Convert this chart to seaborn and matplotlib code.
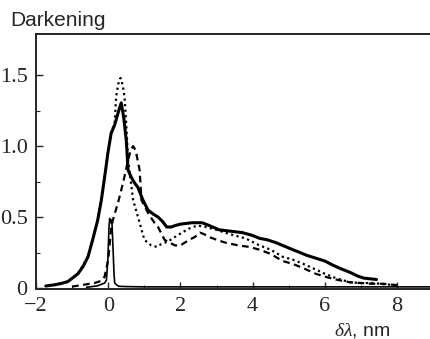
import numpy as np
import pandas as pd
import matplotlib
matplotlib.use("Agg")
import matplotlib.pyplot as plt
import seaborn as sns
from matplotlib.ticker import FixedLocator

# ---- data ----
solid_x = [-1.73, -1.5, -1.3, -1.12, -0.84, -0.7, -0.56, -0.43, -0.29, -0.19, -0.1, -0.01, 0.08, 0.18,
           0.28, 0.36, 0.43, 0.50, 0.55, 0.64, 0.73, 0.82, 0.96, 1.1, 1.25, 1.38, 1.50, 1.62, 1.75,
           1.85, 2.0, 2.32, 2.6, 2.8, 3.07, 3.4, 3.72, 4.0, 4.19, 4.4, 4.64, 4.83, 5.11, 5.31, 5.5, 5.75,
           6.0, 6.23, 6.45, 6.70, 6.9, 7.07, 7.25, 7.43]
solid_y = [0.014, 0.022, 0.032, 0.045, 0.10, 0.15, 0.22, 0.34, 0.48, 0.62, 0.78, 0.95, 1.09, 1.15,
           1.24, 1.305, 1.2, 1.04, 0.83, 0.78, 0.74, 0.71, 0.62, 0.55, 0.52, 0.50, 0.47, 0.43, 0.43,
           0.44, 0.45, 0.46, 0.46, 0.44, 0.41, 0.40, 0.39, 0.37, 0.35, 0.34, 0.32, 0.30, 0.27, 0.25, 0.23, 0.21,
           0.19, 0.16, 0.135, 0.11, 0.085, 0.07, 0.065, 0.06]

dotted_x = [-1.5, -1.12, -0.84, -0.56, -0.29, -0.1, -0.01, 0.08, 0.18, 0.22, 0.28, 0.34, 0.40, 0.45, 0.5,
            0.55, 0.69, 0.87, 1.0, 1.19, 1.35, 1.47, 1.67, 1.85, 2.04, 2.25, 2.46, 2.7, 3.0, 3.24,
            3.5, 3.8, 4.19, 4.5, 4.83, 5.11, 5.4, 5.75, 6.0, 6.3, 6.7, 7.0, 7.35, 7.7, 8.0]
dotted_y = [0.02, 0.045, 0.10, 0.22, 0.48, 0.78, 0.95, 1.09, 1.17, 1.35, 1.44, 1.48, 1.43, 1.35, 1.15,
            0.9, 0.62, 0.46, 0.34, 0.30, 0.29, 0.31, 0.33, 0.36, 0.39, 0.42, 0.44, 0.43, 0.41, 0.39,
            0.37, 0.35, 0.30, 0.27, 0.22, 0.20, 0.17, 0.13, 0.10, 0.07, 0.04, 0.035, 0.035, 0.025, 0.02]

dashed_x = [-1.0, -0.75, -0.38, -0.2, -0.1, 0.0, 0.08, 0.13, 0.27, 0.41, 0.55, 0.62, 0.69, 0.76,
            0.87, 0.92, 1.0, 1.1, 1.2, 1.28, 1.38, 1.56, 1.7, 1.85, 2.0, 2.12, 2.25, 2.4, 2.54, 2.65,
            2.79, 3.0, 3.24, 3.6, 3.9, 4.19, 4.5, 4.83, 5.11, 5.4, 5.75, 6.0, 6.3, 6.7, 7.0, 7.3, 7.6, 8.0]
dashed_y = [0.01, 0.02, 0.035, 0.05, 0.08, 0.2, 0.42, 0.48, 0.60, 0.74, 0.9, 0.97, 1.0, 0.97,
            0.83, 0.62, 0.58, 0.53, 0.49, 0.46, 0.43, 0.34, 0.32, 0.30, 0.30, 0.32, 0.34, 0.36, 0.39, 0.38,
            0.36, 0.34, 0.32, 0.30, 0.29, 0.27, 0.24, 0.19, 0.17, 0.14, 0.10, 0.08, 0.06, 0.04, 0.035, 0.03, 0.03, 0.02]

thin_x = [-0.6, -0.3, -0.1, -0.05, -0.01, 0.02, 0.04, 0.07, 0.10, 0.13, 0.16, 0.18, 0.24, 0.3, 0.5, 1.0,
          2.0, 3.0, 4.0, 5.0, 6.0, 7.0, 8.0, 9.0]
thin_y = [0.005, 0.015, 0.035, 0.056, 0.2, 0.42, 0.49, 0.46, 0.48, 0.30, 0.10, 0.035, 0.02, 0.012, 0.01,
          0.008, 0.008, 0.008, 0.008, 0.008, 0.008, 0.008, 0.008, 0.008]

x_ticks = [-2, 0, 2, 4, 6, 8]
x_tick_labels = ["\u22122", "0", "2", "4", "6", "8"]
y_ticks = [0, 0.5, 1.0, 1.5]
y_tick_labels = ["0", "0.5", "1.0", "1.5"]

# ---- figure ----
sns.set_style("ticks")
plt.rcParams["font.family"] = ["Liberation Sans", "DejaVu Sans"]
plt.rcParams["mathtext.fontset"] = "custom"
plt.rcParams["mathtext.it"] = "Liberation Serif:italic"
plt.rcParams["mathtext.rm"] = "Liberation Serif"

fig = plt.figure(figsize=(4.30, 3.39), dpi=100)
ax = fig.add_axes([36 / 430, 1 - 289 / 339, 1 - 36 / 430 + 0.005, (289 - 34) / 339])

sns.lineplot(x=solid_x, y=solid_y, ax=ax, color="black", lw=2.2, sort=False)
sns.lineplot(x=dotted_x, y=dotted_y, ax=ax, color="black", lw=1.6, sort=False, linestyle=(0, (1, 1.5)))
sns.lineplot(x=dashed_x, y=dashed_y, ax=ax, color="black", lw=1.6, sort=False, linestyle=(0, (3, 2)))
sns.lineplot(x=thin_x, y=thin_y, ax=ax, color="black", lw=1.2, sort=False)

ax.set_xlim(-2, 8.97)
ax.set_ylim(-0.007, 1.79)
ax.set_xticks(x_ticks)
ax.set_xticklabels(x_tick_labels)
ax.set_yticks(y_ticks)
ax.set_yticklabels(y_tick_labels)
ax.xaxis.set_minor_locator(FixedLocator([-1, 1, 3, 5, 7]))
ax.yaxis.set_minor_locator(FixedLocator([0.25, 0.75, 1.25]))
ax.tick_params(which="major", direction="in", length=5, width=1.0, pad=6)
ax.tick_params(which="minor", direction="in", length=3, width=0.8)
for lab in ax.get_xticklabels() + ax.get_yticklabels():
    lab.set_family("Liberation Serif")
    lab.set_fontsize(16)
ax.spines["right"].set_visible(False)
for s in ["left", "bottom", "top"]:
    ax.spines[s].set_linewidth(1.4)
ax.set_xlabel("")
ax.set_ylabel("")

fig.text(10 / 430, 1 - 26 / 339, "Darkening", fontsize=15, va="baseline", ha="left")
fig.text(390 / 430, 1 - 335 / 339, r"$\delta\lambda$, nm", fontsize=14, va="baseline", ha="right")

fig.savefig("out.png", dpi=100)
